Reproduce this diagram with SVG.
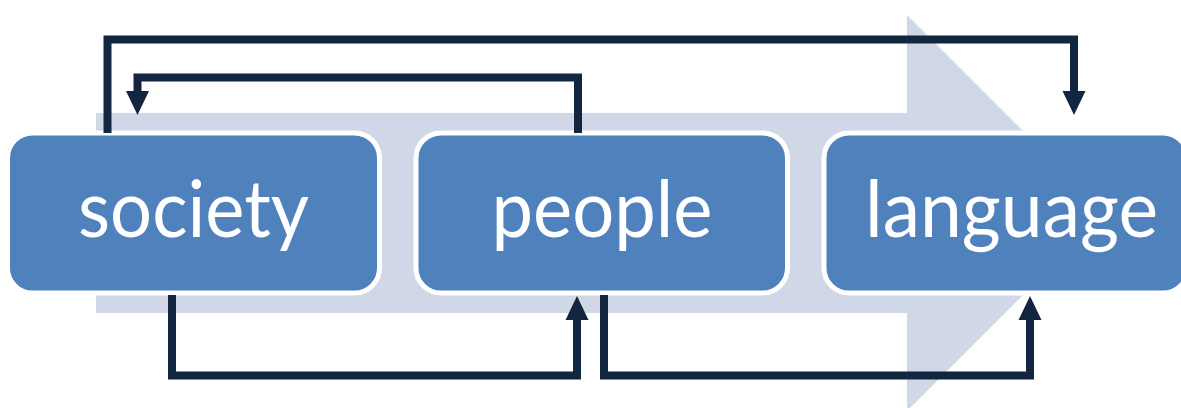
<svg xmlns="http://www.w3.org/2000/svg" width="1181" height="408" viewBox="0 0 1181 408">
  <style>
    .box { fill: #4F81BD; stroke: #FFFFFF; stroke-width: 5; }
    .label { fill: #FFFFFF; font-family: Lato, "Open Sans", sans-serif; font-size: 80px; text-anchor: middle; }
    .link { fill: none; stroke: #12263F; stroke-width: 8; stroke-linejoin: miter; stroke-linecap: butt; }
  </style>
  <defs>
    <marker id="head" markerUnits="userSpaceOnUse" markerWidth="24" markerHeight="24" viewBox="0 0 24 24" refX="0" refY="12" orient="auto">
      <path d="M0,0.5 L24,12 L0,23.5 z" fill="#12263F"/>
    </marker>
  </defs>

  <!-- background process arrow -->
  <polygon id="flow-arrow" points="96,113 907,113 907,15 1105,213 907,411 907,313 96,313" fill="#D0D8E8"/>

  <!-- nodes -->
  <g id="node-society">
    <rect class="box" x="7.5" y="133" width="372" height="160" rx="25" ry="25"/>
    <text class="label" x="193.5" y="237" textLength="231" lengthAdjust="spacingAndGlyphs">society</text>
  </g>
  <g id="node-people">
    <rect class="box" x="416" y="133" width="371.5" height="160" rx="25" ry="25"/>
    <text class="label" x="602" y="237" textLength="221" lengthAdjust="spacingAndGlyphs">people</text>
  </g>
  <g id="node-language">
    <rect class="box" x="824" y="133" width="364" height="160" rx="25" ry="25"/>
    <text class="label" x="1011.5" y="237" textLength="293" lengthAdjust="spacingAndGlyphs">language</text>
  </g>

  <!-- connectors -->
  <g id="connectors">
    <path class="link" d="M107.5,133 V39.5 H1074 V91" marker-end="url(#head)"/>
    <path class="link" d="M578,133 V77.5 H137.5 V91" marker-end="url(#head)"/>
    <path class="link" d="M172,295 V375.5 H577 V320" marker-end="url(#head)"/>
    <path class="link" d="M604,295 V375.5 H1030 V320" marker-end="url(#head)"/>
  </g>
</svg>
